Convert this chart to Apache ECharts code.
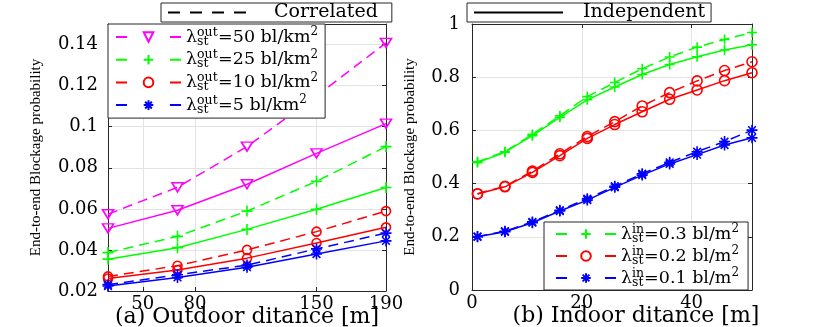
<!DOCTYPE html>
<html><head><meta charset="utf-8">
<script src="https://cdn.jsdelivr.net/npm/echarts@6/dist/echarts.min.js"></script>
<style>html,body{margin:0;padding:0;background:#fff}#c{width:830px;height:327px}</style>
</head><body><div id="c"></div>
<script>
// ---------- data: (a) outdoor ----------
const outdoorDist = [30, 70, 110, 150, 190];
const outdoorXTicks = [50, 80, 150, 190];
const outdoorYTicks = [0.02, 0.04, 0.06, 0.08, 0.1, 0.12, 0.14];
const corrOut50 = [0.0574, 0.0705, 0.0903, 0.1150, 0.1408];
const indOut50  = [0.0505, 0.0593, 0.0720, 0.0870, 0.1015];
const corrOut25 = [0.0387, 0.0466, 0.0589, 0.0734, 0.0903];
const indOut25  = [0.0355, 0.0411, 0.0500, 0.0598, 0.0704];
const corrOut10 = [0.0271, 0.0323, 0.0400, 0.0489, 0.0589];
const indOut10  = [0.0261, 0.0302, 0.0360, 0.0434, 0.0510];
const corrOut5  = [0.0231, 0.0279, 0.0326, 0.0405, 0.0482];
const indOut5   = [0.0224, 0.0266, 0.0316, 0.0380, 0.0444];

// ---------- data: (b) indoor ----------
const indoorDist = [1, 6, 11, 16, 21, 26, 31, 36, 41, 46, 51];
const indoorXTicks = [0, 20, 40];
const corrIn03 = [0.482, 0.520, 0.585, 0.655, 0.727, 0.780, 0.832, 0.876, 0.913, 0.942, 0.968];
const indIn03  = [0.479, 0.518, 0.580, 0.649, 0.715, 0.763, 0.810, 0.848, 0.877, 0.902, 0.922];
const corrIn02 = [0.362, 0.390, 0.447, 0.512, 0.577, 0.633, 0.692, 0.742, 0.786, 0.825, 0.858];
const indIn02  = [0.361, 0.388, 0.442, 0.505, 0.570, 0.622, 0.670, 0.717, 0.752, 0.787, 0.817];
const corrIn01 = [0.201, 0.221, 0.256, 0.300, 0.343, 0.390, 0.437, 0.480, 0.520, 0.558, 0.601];
const indIn01  = [0.200, 0.219, 0.253, 0.297, 0.338, 0.386, 0.432, 0.474, 0.509, 0.545, 0.572];

const outLegend = {o50: '50', o25: '25', o10: '10', o5: '5'};
const inLegend = {i03: '0.3', i02: '0.2', i01: '0.1'};

// ---------- styling ----------
const MAG = '#ff00ff', GRN = '#00ff00', RED = '#ff0000', BLU = '#0000ff';
const SYM = {
  tri: 'path://M0,0 L10,0 L5,8.66 Z',
  plus: 'path://M5,0 L5,10 M0,5 L10,5',
  circ: 'circle',
  star: 'path://M5,0 L5,10 M0,5 L10,5 M1.5,1.5 L8.5,8.5 M8.5,1.5 L1.5,8.5'
};
const DASH = [10, 6];
const SERIF = 'DejaVu Serif';
const AX = '#262626';
const GRIDC = '#e3e3e3';

function mk(name, xs, ys, color, dashed, sym, size, gi) {
  return {
    name: name, type: 'line', xAxisIndex: gi * 2, yAxisIndex: gi * 2,
    data: xs.map((x, i) => [x, ys[i]]),
    symbol: SYM[sym], symbolSize: size,
    lineStyle: {color: color, width: 1.5, type: dashed ? DASH : 'solid'},
    itemStyle: {color: 'rgba(0,0,0,0)', borderColor: color, borderWidth: 1.6},
    emphasis: {disabled: true}, silent: true, z: dashed ? 3 : 2
  };
}
function dummy(name, dashed) {
  return {name: name, type: 'line', xAxisIndex: 0, yAxisIndex: 0, data: [], symbol: 'none',
    lineStyle: {color: '#000', width: 2, type: dashed ? [12, 10] : 'solid'},
    itemStyle: {color: 'rgba(0,0,0,0)', borderWidth: 0}};
}

const series = [
  mk('o50', outdoorDist, corrOut50, MAG, true, 'tri', [11, 9], 0),
  mk('o50i', outdoorDist, indOut50, MAG, false, 'tri', [11, 9], 0),
  mk('o25', outdoorDist, corrOut25, GRN, true, 'plus', 11, 0),
  mk('o25i', outdoorDist, indOut25, GRN, false, 'plus', 11, 0),
  mk('o10', outdoorDist, corrOut10, RED, true, 'circ', 9, 0),
  mk('o10i', outdoorDist, indOut10, RED, false, 'circ', 9, 0),
  mk('o5', outdoorDist, corrOut5, BLU, true, 'star', 11, 0),
  mk('o5i', outdoorDist, indOut5, BLU, false, 'star', 11, 0),
  mk('i03', indoorDist, corrIn03, GRN, true, 'plus', 10, 1),
  mk('i03i', indoorDist, indIn03, GRN, false, 'plus', 10, 1),
  mk('i02', indoorDist, corrIn02, RED, true, 'circ', 10, 1),
  mk('i02i', indoorDist, indIn02, RED, false, 'circ', 10, 1),
  mk('i01', indoorDist, corrIn01, BLU, true, 'star', 11, 1),
  mk('i01i', indoorDist, indIn01, BLU, false, 'star', 11, 1),
  dummy('Correlated', true),
  dummy('Independent', false)
];

function xAx(gi, min, max, ticks, name, pad) {
  return {
    type: 'value', gridIndex: gi, min: min, max: max, position: 'bottom',
    name: name, nameLocation: 'middle', nameGap: 15, nameMoveOverlap: false,
    nameTextStyle: {fontFamily: SERIF, fontSize: 22, color: '#000', padding: pad},
    axisLine: {show: true, lineStyle: {color: AX, width: 1}},
    axisTick: {show: true, inside: true, length: 4, customValues: ticks, lineStyle: {color: AX}},
    axisLabel: {customValues: ticks, margin: 4, fontFamily: SERIF, fontSize: 18, color: '#000'},
    splitLine: {show: true, lineStyle: {color: GRIDC, width: 1}}
  };
}
function xTop(gi, min, max, ticks) {
  return {type: 'value', gridIndex: gi, min: min, max: max, position: 'top',
    axisLine: {show: true, onZero: false, lineStyle: {color: AX, width: 1}},
    axisTick: {show: true, inside: true, length: 4, customValues: ticks, lineStyle: {color: AX}},
    axisLabel: {show: false}, splitLine: {show: false}};
}
function yAx(gi, min, max, interval, ticks, gap, margin) {
  const a = {
    type: 'value', gridIndex: gi, min: min, max: max, position: 'left',
    name: 'End-to-end Blockage probability', nameLocation: 'middle', nameGap: gap, nameRotate: 90,
    nameMoveOverlap: false,
    nameTextStyle: {fontFamily: 'Liberation Serif', fontSize: 15, color: '#000'},
    axisLine: {show: true, onZero: false, lineStyle: {color: AX, width: 1}},
    axisTick: {show: true, inside: true, length: 4, lineStyle: {color: AX}},
    axisLabel: {margin: margin, fontFamily: SERIF, fontSize: 18, color: '#000'},
    splitLine: {show: true, lineStyle: {color: GRIDC, width: 1}}
  };
  if (ticks) { a.axisTick.customValues = ticks; a.axisLabel.customValues = ticks; }
  if (interval) a.interval = interval;
  return a;
}
function yRight(gi, min, max, interval, ticks) {
  const a = {type: 'value', gridIndex: gi, min: min, max: max, position: 'right',
    axisLine: {show: true, onZero: false, lineStyle: {color: AX, width: 1}},
    axisTick: {show: true, inside: true, length: 4, lineStyle: {color: AX}},
    axisLabel: {show: false}, splitLine: {show: false}};
  if (ticks) a.axisTick.customValues = ticks;
  if (interval) a.interval = interval;
  return a;
}

const richBase = {
  l: {fontFamily: SERIF, fontSize: 17.5, lineHeight: 22, verticalAlign: 'middle', color: '#000'},
  t: {fontFamily: SERIF, fontSize: 17.5, lineHeight: 22, verticalAlign: 'middle', color: '#000'},
  sup: {fontFamily: SERIF, fontSize: 12.5, lineHeight: 8, verticalAlign: 'top', width: 0, color: '#000'},
  subo: {fontFamily: SERIF, fontSize: 12.5, lineHeight: 7, verticalAlign: 'bottom', width: 21, color: '#000'},
  subi: {fontFamily: SERIF, fontSize: 12.5, lineHeight: 7, verticalAlign: 'bottom', width: 12, color: '#000'},
  sq: {fontFamily: SERIF, fontSize: 12, lineHeight: 12, verticalAlign: 'top', color: '#000'}
};

const option = {
  animation: false,
  backgroundColor: '#fff',
  grid: [
    {left: 108, top: 24, width: 278, height: 267, outerBoundsMode: 'none', containLabel: false},
    {left: 472, top: 24, width: 280, height: 266, outerBoundsMode: 'none', containLabel: false}
  ],
  xAxis: [
    xAx(0, 30, 190, outdoorXTicks, '(a) Outdoor ditance [m]', [0, 0, 0, 0]),
    xTop(0, 30, 190, outdoorXTicks),
    xAx(1, 0, 51, indoorXTicks, '(b) Indoor ditance [m]', [0, 0, 0, 48]),
    xTop(1, 0, 51, indoorXTicks)
  ],
  yAxis: [
    yAx(0, 0.02, 0.15, null, outdoorYTicks, 64, 10),
    yRight(0, 0.02, 0.15, null, outdoorYTicks),
    yAx(1, 0, 1, 0.2, null, 54, 12),
    yRight(1, 0, 1, 0.2, null)
  ],
  legend: [
    {data: ['Correlated'], left: 161, top: 3, orient: 'horizontal', selectedMode: false,
     itemWidth: 81, itemHeight: 10, padding: [0, 14, 0, 6],
     borderColor: AX, borderWidth: 1, backgroundColor: '#fff',
     itemStyle: {opacity: 0}, lineStyle: {type: [12, 10], width: 2, color: '#000'},
     textStyle: {fontFamily: SERIF, fontSize: 19, lineHeight: 17, color: '#000', padding: [0, 0, 0, 20]}},
    {data: ['Independent'], left: 467, top: 3, orient: 'horizontal', selectedMode: false,
     itemWidth: 89, itemHeight: 10, padding: [0, 6, 0, 6],
     borderColor: AX, borderWidth: 1, backgroundColor: '#fff',
     itemStyle: {opacity: 0}, lineStyle: {type: 'solid', width: 2, color: '#000'},
     textStyle: {fontFamily: SERIF, fontSize: 19, lineHeight: 17, color: '#000', padding: [0, 0, 0, 15]}},
    {data: Object.keys(outLegend), left: 108, top: 24, orient: 'vertical', selectedMode: false,
     itemWidth: 65, itemHeight: 12, itemGap: 0.7, padding: [2, 7, 2, 7],
     borderColor: AX, borderWidth: 1, backgroundColor: '#fff',
     lineStyle: {type: [11, 43]},
     formatter: n => '{l|λ}{sup|out}{subo|st}{t|=' + outLegend[n] + ' bl/km}{sq|2}',
     textStyle: {rich: richBase}},
    {data: Object.keys(inLegend), left: 544, top: 222, orient: 'vertical', selectedMode: false,
     itemWidth: 60, itemHeight: 12, itemGap: 0, padding: [1, 9, 1, 11],
     borderColor: AX, borderWidth: 1, backgroundColor: '#fff',
     lineStyle: {type: [11, 38]},
     formatter: n => '{l|λ}{sup|in}{subi|st}{t|=' + inLegend[n] + ' bl/m}{sq|2}',
     textStyle: {rich: richBase}}
  ],
  series: series
};

const chart = echarts.init(document.getElementById('c'), null, {renderer: 'canvas'});
chart.setOption(option);
</script>
</body></html>
